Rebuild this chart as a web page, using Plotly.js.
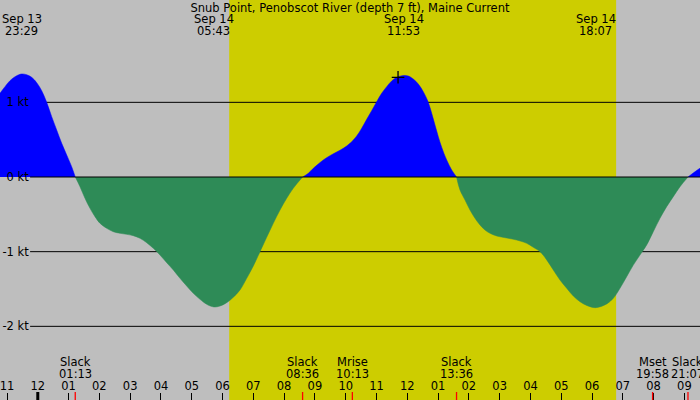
<!DOCTYPE html>
<html>
<head>
<meta charset="utf-8">
<script src="https://cdn.plot.ly/plotly-3.0.1.min.js"></script>
<style>
  html, body { margin: 0; padding: 0; background: #bebebe; }
  #chart { width: 700px; height: 400px; }
</style>
</head>
<body>
<div id="chart"></div>
<script>
// ---- data ----
const chartTitle = 'Snub Point, Penobscot River (depth 7 ft), Maine Current';
const day0 = '2024-09-14';   // hours below are counted from 00:00 of this day

// current speed (kt), + = flood, - = ebb; hours from Sep 14 00:00 (negative = Sep 13)
const hours = [
  -1.357, -1.227, -1.065, -0.903, -0.740, -0.578, -0.500, -0.360, -0.198, -0.035,
  0.127, 0.289, 0.452, 0.614, 0.777, 0.939, 1.101, 1.217,
  1.371, 1.533, 1.696, 1.858, 2.020, 2.238, 2.452, 2.670, 2.888, 3.102,
  3.320, 3.537, 3.752, 3.969, 4.187, 4.401, 4.619, 4.836, 5.051, 5.268,
  5.486, 5.717, 5.918, 6.135, 6.350, 6.567, 6.785, 7.000, 7.217, 7.434,
  7.649, 7.867, 8.084, 8.298, 8.600,
  8.786, 8.948, 9.110, 9.273, 9.490, 9.708, 9.922, 10.140, 10.357, 10.520,
  10.682, 10.844, 11.007, 11.169, 11.332, 11.494, 11.657, 11.883, 12.033, 12.196,
  12.358, 12.520, 12.683, 12.793, 12.900, 13.008, 13.118, 13.280, 13.443, 13.600,
  13.712, 13.875, 14.037, 14.199, 14.362, 14.524, 14.687, 14.904, 15.229, 15.554,
  15.879, 16.093, 16.311, 16.528, 16.743, 16.960, 17.178, 17.392, 17.610, 17.827,
  18.117, 18.477, 18.691, 18.909, 19.126, 19.341, 19.558, 19.776, 19.990, 20.208,
  20.425, 20.640, 20.858, 21.117, 21.500, 21.600
];
const speeds = [
  1.03, 1.12, 1.21, 1.29, 1.343, 1.375, 1.38, 1.37, 1.335, 1.263,
  1.156, 1.00, 0.808, 0.629, 0.451, 0.295, 0.138, 0,
  -0.13, -0.286, -0.42, -0.531, -0.62, -0.687, -0.732, -0.754, -0.768, -0.786,
  -0.821, -0.88, -0.955, -1.045, -1.147, -1.245, -1.357, -1.46, -1.558, -1.638,
  -1.705, -1.74, -1.728, -1.683, -1.611, -1.513, -1.357, -1.192, -1.00, -0.808,
  -0.62, -0.442, -0.285, -0.151, 0,
  0.049, 0.116, 0.174, 0.228, 0.286, 0.335, 0.384, 0.451, 0.549, 0.652,
  0.772, 0.888, 1.009, 1.121, 1.21, 1.286, 1.335, 1.36, 1.353, 1.312,
  1.245, 1.142, 1.00, 0.853, 0.696, 0.54, 0.398, 0.228, 0.094, 0,
  -0.174, -0.308, -0.442, -0.553, -0.643, -0.71, -0.754, -0.79, -0.817, -0.844,
  -0.888, -0.942, -1.00, -1.11, -1.245, -1.38, -1.49, -1.594, -1.67, -1.72,
  -1.75, -1.70, -1.625, -1.49, -1.335, -1.18, -1.045, -0.91, -0.732, -0.553,
  -0.397, -0.263, -0.13, 0, 0.116, 0.14
];

// max / min current labels (top)
const extremeTimes = ['2024-09-13 23:29', '2024-09-14 05:43', '2024-09-14 11:53', '2024-09-14 18:07'];
const extremeDates = ['Sep 13', 'Sep 14', 'Sep 14', 'Sep 14'];
const extremeClock = ['23:29', '05:43', '11:53', '18:07'];

// slack / moon events (bottom)
const eventTimes = ['2024-09-14 01:13', '2024-09-14 08:36', '2024-09-14 10:13', '2024-09-14 13:36', '2024-09-14 19:58', '2024-09-14 21:07'];
const eventNames = ['Slack', 'Slack', 'Mrise', 'Slack', 'Mset', 'Slack'];
const eventClock = ['01:13', '08:36', '10:13', '13:36', '19:58', '21:07'];

// daylight
const sunrise = '2024-09-14 06:13';
const sunset = '2024-09-14 18:47';
const midnight = '2024-09-14 00:00';
const viewStart = '2024-09-13 22:46:22';
const viewEnd = '2024-09-14 21:30:25';

// marker
const markTimes = ['2024-09-14 11:42'];
const markValues = [1.335];

// y ticks
const yTickVals = [-2, -1, 0, 1];
const yTickText = ['-2 kt', '-1 kt', '0 kt', '1 kt'];

// ---- build ----
const FONT = 'DejaVu Sans, Bitstream Vera Sans, sans-serif';
const base = Date.parse(day0 + 'T00:00:00Z');
function toDate(h) {
  return new Date(base + Math.round(h * 3600000)).toISOString().replace('T', ' ').slice(0, 19);
}
const times = hours.map(toDate);

const segs = [];
let cur = { x: [], y: [] };
for (let i = 0; i < times.length; i++) {
  cur.x.push(times[i]); cur.y.push(speeds[i]);
  if (speeds[i] === 0 && cur.x.length > 1) {
    segs.push(cur);
    cur = { x: [times[i]], y: [0] };
  }
}
if (cur.x.length > 1) segs.push(cur);

const traces = segs.map(s => {
  const sum = s.y.reduce((a, b) => a + b, 0);
  const col = sum > 0 ? '#0000ff' : '#2e8b57';
  return {
    type: 'scatter', mode: 'lines', x: s.x, y: s.y,
    line: { shape: 'spline', smoothing: 1, width: 0.5, color: col },
    fill: 'tozeroy', fillcolor: col, hoverinfo: 'skip', showlegend: false
  };
});
traces.push({
  type: 'scatter', mode: 'markers', x: markTimes, y: markValues,
  marker: { symbol: 'cross-thin', size: 9, color: 'black', line: { width: 1.3, color: 'black' } },
  hoverinfo: 'skip', showlegend: false
});

const shapes = [];
shapes.push({ type: 'rect', xref: 'x', yref: 'paper', x0: sunrise, x1: sunset, y0: 0, y1: 1,
  fillcolor: '#cdcd00', line: { width: 0 }, layer: 'below' });
yTickVals.forEach(v => {
  shapes.push({ type: 'line', xref: 'paper', yref: 'y', x0: 0.043, x1: 1, y0: v, y1: v,
    line: { color: 'black', width: 1 }, layer: v === 0 ? 'above' : 'below' });
});
eventTimes.forEach(t => {
  shapes.push({ type: 'line', xref: 'x', yref: 'paper', x0: t, x1: t, y0: 0, y1: 0.02,
    line: { color: '#ff0000', width: 1.3 }, layer: 'above' });
});
shapes.push({ type: 'line', xref: 'x', yref: 'paper', x0: midnight, x1: midnight, y0: 0, y1: 0.02,
  line: { color: 'black', width: 3 }, layer: 'above' });

const annotations = [];
const tf = { family: FONT, size: 11.5, color: 'black' };
extremeTimes.forEach((t, i) => {
  annotations.push({ x: t, xref: 'x', y: 1, yref: 'paper', yanchor: 'middle', yshift: -19,
    text: extremeDates[i], showarrow: false, font: tf, height: 12 });
  annotations.push({ x: t, xref: 'x', y: 1, yref: 'paper', yanchor: 'middle', yshift: -31,
    text: extremeClock[i], showarrow: false, font: tf, height: 12 });
});
eventTimes.forEach((t, i) => {
  annotations.push({ x: t, xref: 'x', y: 0, yref: 'paper', yanchor: 'middle', yshift: 38,
    text: eventNames[i], showarrow: false, font: tf, height: 12 });
  annotations.push({ x: t, xref: 'x', y: 0, yref: 'paper', yanchor: 'middle', yshift: 26,
    text: eventClock[i], showarrow: false, font: tf, height: 12 });
});

const layout = {
  width: 700, height: 400,
  margin: { l: 0, r: 0, t: 0, b: 0, pad: 0 },
  paper_bgcolor: '#bebebe', plot_bgcolor: '#bebebe',
  showlegend: false,
  font: tf,
  title: { text: chartTitle, font: tf, x: 0.5, xanchor: 'center', xref: 'paper',
    y: 1 - 7.5 / 400, yref: 'container', yanchor: 'middle' },
  xaxis: {
    type: 'date', range: [viewStart, viewEnd],
    tick0: '2024-09-13 23:00', dtick: 3600000, tickformat: '%I',
    side: 'top', anchor: 'free', position: 0.02,
    ticks: 'inside', ticklen: 8, tickwidth: 1, tickcolor: 'black',
    tickfont: tf, ticklabeloverflow: 'allow',
    showgrid: false, zeroline: false, showline: false, fixedrange: true
  },
  yaxis: {
    range: [-2.9865, 2.3705], tickvals: yTickVals, ticktext: yTickText,
    anchor: 'free', position: 0.041, ticks: '', tickfont: tf,
    showgrid: false, zeroline: false, showline: false, fixedrange: true
  },
  shapes: shapes,
  annotations: annotations
};

Plotly.newPlot('chart', traces, layout, { displayModeBar: false, staticPlot: true });
</script>
</body>
</html>
